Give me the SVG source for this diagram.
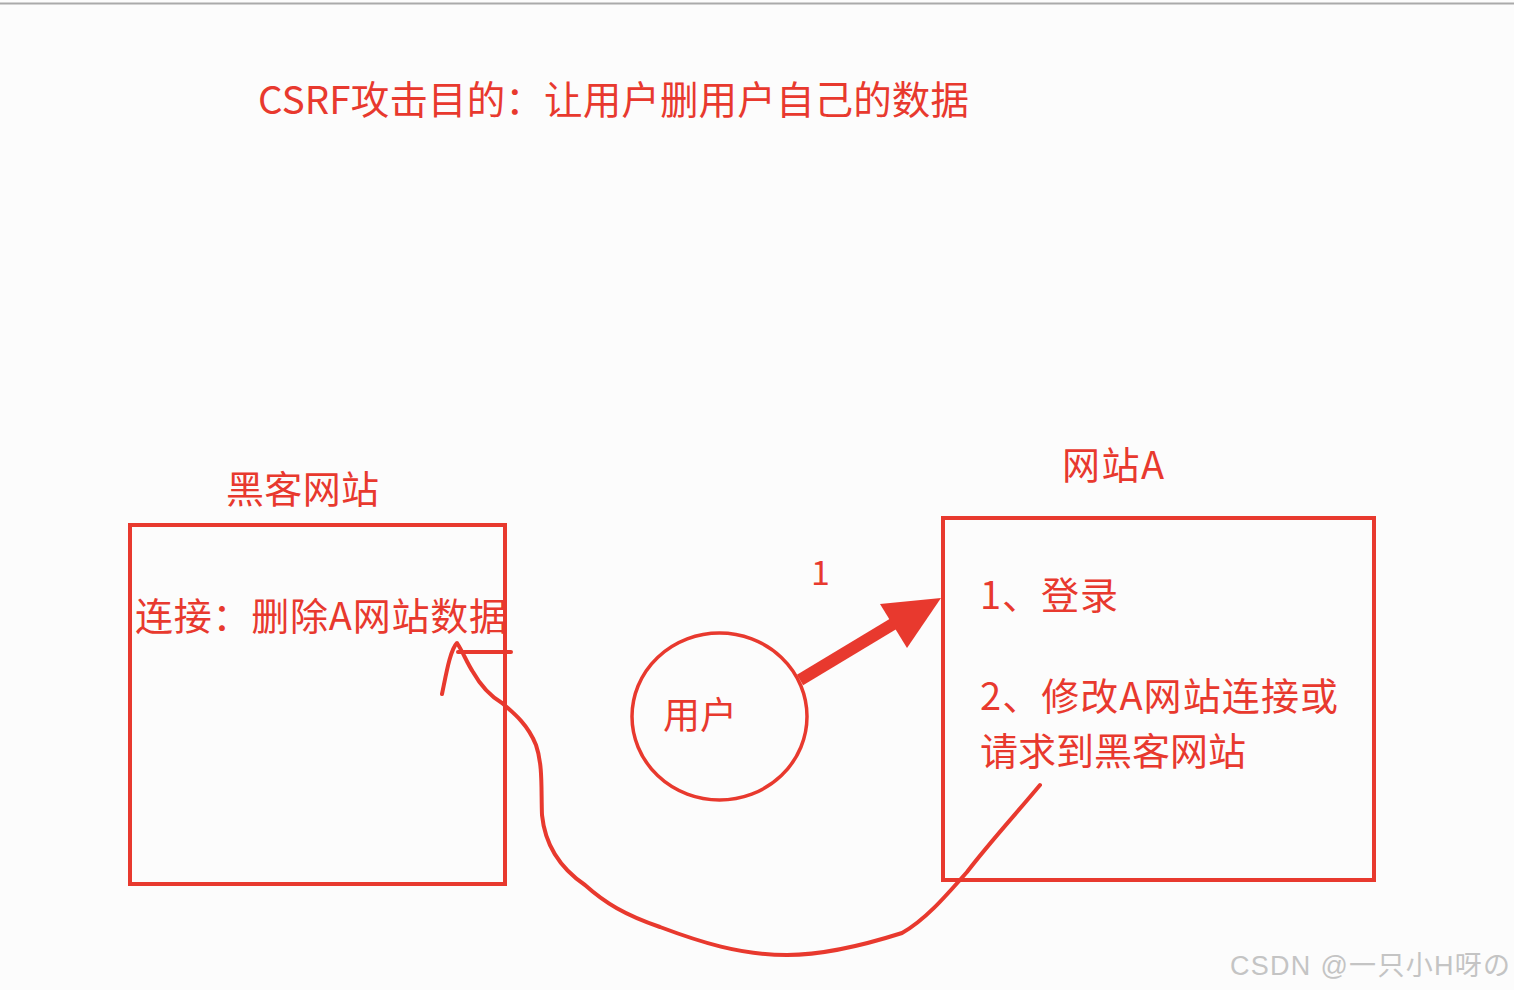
<svg xmlns="http://www.w3.org/2000/svg" width="1514" height="990" viewBox="0 0 1514 990">
<style>
.t{font-family:"Noto Sans CJK SC","Noto Sans",sans-serif;fill:#e8392e;}
.box{fill:none;stroke:#e8392e;stroke-width:4;}
.ln{fill:none;stroke:#e8392e;stroke-width:4;stroke-linecap:round;stroke-linejoin:round;}
</style>
<rect width="1514" height="990" fill="#fcfcfc"/>
<line x1="0" y1="3.5" x2="1514" y2="3.5" stroke="#aaaaaa" stroke-width="2"/>
<text class="t" x="258" y="114" font-size="38.5" textLength="711" lengthAdjust="spacing">CSRF攻击目的：让用户删用户自己的数据</text>
<g id="hacker">
<text class="t" x="226" y="503" font-size="38" textLength="153" lengthAdjust="spacing">黑客网站</text>
<rect class="box" x="130" y="525" width="375" height="359"/>
<text class="t" x="135" y="630" font-size="38" textLength="372" lengthAdjust="spacing">连接：删除A网站数据</text>
</g>
<g id="siteA">
<text class="t" x="1062" y="479" font-size="38" textLength="102" lengthAdjust="spacing">网站A</text>
<rect class="box" x="943" y="518" width="431" height="362"/>
<text class="t" x="980" y="609" font-size="38" textLength="138" lengthAdjust="spacing">1、登录</text>
<text class="t" x="980" y="710" font-size="38" textLength="358" lengthAdjust="spacing">2、修改A网站连接或</text>
<text class="t" x="980" y="765" font-size="38" textLength="266" lengthAdjust="spacing">请求到黑客网站</text>
</g>
<g id="user">
<ellipse cx="719.5" cy="716.5" rx="87.5" ry="83.5" fill="none" stroke="#e8392e" stroke-width="3.5"/>
<text class="t" x="663" y="729" font-size="37">用户</text>
</g>
<g id="connectors">
<text class="t" x="811" y="585" font-size="34" font-family="Noto Sans">1</text>
<line x1="800" y1="680" x2="898" y2="621" stroke="#e8392e" stroke-width="12"/>
<polygon points="941,598 880,604 907,648" fill="#e8392e"/>
<path class="ln" d="M442,694 C446,675 450,650 457,643 C463,652 467,663 473,672 C482,688 492,697 502,703 C515,714 528,725 536,745 C543,765 541,790 542,815 C545,845 560,868 585,885 C605,903 625,915 660,927 C700,942 740,955 787,955 C820,955 855,948 902,933 C925,920 945,897 967,872 C990,842 1015,815 1040,785"/>
<line class="ln" x1="458" y1="652" x2="511" y2="652" stroke-width="3"/>
</g>
<text x="1230" y="975" font-size="27" font-family="Liberation Sans,Noto Sans CJK SC,sans-serif" fill="#c4c4c4" textLength="280" lengthAdjust="spacing">CSDN @一只小H呀の</text>
</svg>
